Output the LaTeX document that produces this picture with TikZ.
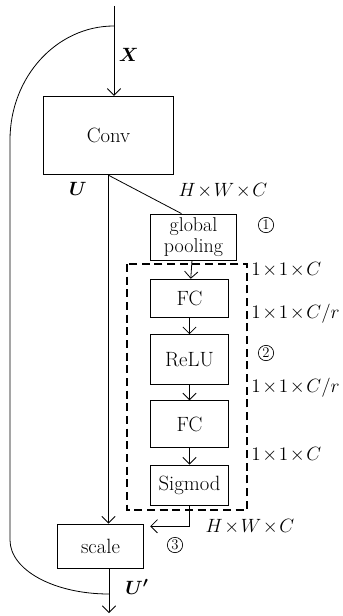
\documentclass[tikz,border=0pt]{standalone}
\usepackage{amsmath}
\usepackage{fontspec}
\usetikzlibrary{arrows.meta,positioning}

\newcommand\dimtxt[1]{$\medmuskip=1.5mu #1$}

\tikzset{
  blk/.style={draw, rectangle, inner sep=0pt, minimum width=59pt},
  lbl/.style={inner sep=0pt},
  circ/.style={draw, circle, line width=0.5pt, inner sep=0pt, minimum size=11.5pt,
               font=\fontsize{11}{11}\selectfont},
}

\begin{document}
\begin{tikzpicture}[x=0.75pt,y=-0.75pt,>={Straight Barb[length=5pt,width=10pt]},
    line width=0.6pt,font=\fontsize{15.5}{17}\selectfont]
    \useasboundingbox (0,0) rectangle (342,616);

    \coordinate (in) at (114,6);
    \coordinate (split) at (114,26);
    \coordinate (join) at (109,594);
    \coordinate (out) at (109,613);

    \node[blk, minimum width=98pt, minimum height=59pt] (conv) at (108.5,135.5) {Conv};
    \node[blk, minimum width=65pt, minimum height=34.5pt, align=center,
          font=\fontsize{15}{15.5}\selectfont] (gp) at (193.5,237) {global\\pooling};
    \node[blk, minimum height=29pt] (fc1) at (189.5,298.5) {FC};
    \node[blk, minimum height=37pt] (relu) [below=12pt of fc1] {ReLU};
    \node[blk, minimum height=35pt] (fc2) [below=12pt of relu] {FC};
    \node[blk, minimum height=30pt] (sig) [below=12.5pt of fc2] {Sigmod};
    \node[blk, minimum width=64pt, minimum height=33pt] (sc) at (100.5,546) {scale};

    % SE block
    \draw[dashed, line width=1.2pt, dash pattern=on 6pt off 3.5pt] (127,264) rectangle (247,510);

    \draw[->] (in) -- node[right, pos=0.55] {$\boldsymbol{X}$} (in |- conv.north);
    \draw (split) .. controls (56.6,26) and (10,77) .. (10,140)
        -- (10,540) .. controls (10,570) and (54,594) .. (join);
    \draw[->] (conv.south) -- (conv.south |- sc.north);
    \draw (conv.south) -- ([xshift=-9pt]gp.north);
    \draw[->] (gp) -- (fc1);
    \draw[->] (fc1) -- (relu);
    \draw[->] (relu) -- (fc2);
    \draw[->] (fc2) -- (sig);
    \draw[->] (sig.south) |- ([xshift=5pt,yshift=-2pt]sc.north east);
    \draw[->] (join |- sc.south) -- (out);

    \node[lbl] (u) at (78,189) {$\boldsymbol{U}$};
    \node[lbl] (d0) at (223,191) {\dimtxt{H\times W\times C}};
    \node[circ] (c1) at (266,225) {1};
    \node[lbl, anchor=west] (d1) at (251,270) {\dimtxt{1\times 1\times C}};
    \node[lbl, anchor=west] (d2) at (251,314) {\dimtxt{1\times 1\times C/r}};
    \node[circ] (c2) at (266,353) {2};
    \node[lbl, anchor=west] (d3) at (251,388) {\dimtxt{1\times 1\times C/r}};
    \node[lbl, anchor=west] (d4) at (251,455) {\dimtxt{1\times 1\times C}};
    \node[lbl] (d5) at (250,527) {\dimtxt{H\times W\times C}};
    \node[circ] (c3) at (175,545) {3};
    \node[lbl] (u2) at (137,587) {$\boldsymbol{U'}$};
\end{tikzpicture}
\end{document}
